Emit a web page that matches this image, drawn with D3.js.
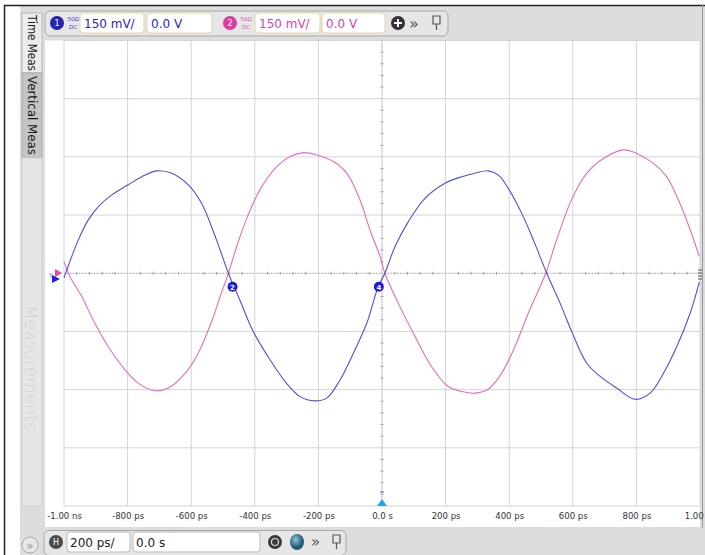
<!DOCTYPE html>
<html>
<head>
<meta charset="utf-8">
<script src="https://cdn.jsdelivr.net/npm/d3@7/dist/d3.min.js"></script>
<style>
  html, body { margin: 0; padding: 0; background: #ffffff; }
  svg { display: block; }
  .ui { font-family: "DejaVu Sans", Verdana, sans-serif; }
  .axlab { font-family: "Liberation Sans Narrow", "DejaVu Sans Condensed", "DejaVu Sans", sans-serif; font-stretch: condensed; }
</style>
</head>
<body>
<svg id="scope" width="705" height="555"></svg>
<script>
// Channel 1 (blue) samples: time in ps, level in mV
const ch1Time = [-1000, -955, -924, -892, -850, -798, -745, -708, -661, -609, -567, -536, -509, -483,
  -447, -405, -352, -300, -258, -211, -174, -132, -90, -48, -12, 9, 41, 83, 135, 198, 251, 292,
  334, 366, 397, 439, 476, 518, 560, 598, 644, 686, 738, 796, 843, 885, 927, 969, 998];
const ch1Volt = [-12, 86, 137, 172, 202, 228, 253, 264, 258, 228, 180, 120, 60, 0,
  -69, -150, -223, -284, -318, -329, -322, -275, -206, -129, -35, 0, 69, 133, 193, 232, 249, 258,
  264, 253, 219, 155, 86, 0, -77, -153, -232, -266, -296, -325, -309, -258, -189, -103, -22];

// Channel 2 (pink) samples
const ch2Time = [-1000, -981, -944, -903, -861, -808, -766, -714, -672, -619, -578, -536, -509, -483,
  -457, -425, -384, -331, -289, -247, -205, -153, -111, -69, -38, -6, 9, 51, 104, 156, 208, 251,
  292, 334, 376, 418, 460, 515, 549, 598, 644, 696, 759, 801, 853, 895, 937, 969, 998];
const ch2Volt = [30, -9, -60, -129, -189, -249, -284, -303, -296, -258, -206, -125, -60, 0,
  69, 142, 215, 275, 301, 311, 305, 288, 258, 189, 112, 43, 0, -77, -163, -241, -292, -305,
  -309, -299, -258, -189, -103, 0, 86, 193, 258, 296, 318, 309, 284, 249, 180, 112, 43];

// Horizontal axis labels (one per 200 ps division)
const timeTicks = [-1000, -800, -600, -400, -200, 0, 200, 400, 600, 800, 1000];
const timeLabels = ["-1.00 ns", "-800 ps", "-600 ps", "-400 ps", "-200 ps", "0.0 s",
  "200 ps", "400 ps", "600 ps", "800 ps", "1.00 ns"];
// Vertical divisions at 150 mV/div
const voltTicks = [-600, -450, -300, -150, 0, 150, 300, 450, 600];

// Measurement markers on channel 1 edges
const markerTime = [-470, -10];
const markerVolt = [-35, -35];
const markerText = ["2", "4"];

const svg = d3.select("#scope");
const W = 705, H = 555;

const x = d3.scaleLinear().domain([-1000, 1000]).range([64, 700]);
const y = d3.scaleLinear().domain([-600, 600]).range([506, 40.5]);

// ---------- application chrome ----------
const gray = "#dddddd";
svg.append("rect").attr("x", 0).attr("y", 0).attr("width", W).attr("height", H).attr("fill", "#ffffff");
// top toolbar band
svg.append("rect").attr("x", 20).attr("y", 5).attr("width", W - 20).attr("height", 36).attr("fill", gray);
// left tab column
svg.append("rect").attr("x", 20).attr("y", 5).attr("width", 25).attr("height", 523).attr("fill", gray);
// bottom toolbar band
svg.append("rect").attr("x", 20).attr("y", 527).attr("width", W - 20).attr("height", 28).attr("fill", gray);
// right strip
svg.append("rect").attr("x", 700).attr("y", 5).attr("width", 5).attr("height", 523).attr("fill", gray);
// outer frame lines
svg.append("line").attr("x1", 4).attr("x2", W).attr("y1", 5.5).attr("y2", 5.5).attr("stroke", "#222").attr("stroke-width", 1.5);
svg.append("line").attr("x1", 4.5).attr("x2", 4.5).attr("y1", 5).attr("y2", H).attr("stroke", "#222").attr("stroke-width", 1.5);
svg.append("line").attr("x1", 702.5).attr("x2", 702.5).attr("y1", 5).attr("y2", 528).attr("stroke", "#9a9a9a").attr("stroke-width", 1);

// ---------- left measurement tabs ----------
svg.append("rect").attr("x", 22).attr("y", 13).attr("width", 20).attr("height", 60)
  .attr("fill", "#ececec").attr("stroke", "#b8b8b8");
svg.append("rect").attr("x", 22).attr("y", 73).attr("width", 20).attr("height", 85)
  .attr("fill", "#c4c4c4").attr("stroke", "#a8a8a8");
svg.append("rect").attr("x", 22).attr("y", 158).attr("width", 20).attr("height", 348)
  .attr("fill", "#e6e6e6").attr("stroke", "#d0d0d0");
svg.append("text").attr("class", "ui").attr("transform", "translate(27.5,15) rotate(90)")
  .attr("font-size", 11.5).attr("fill", "#1a1a1a")
  .attr("textLength", 56).attr("lengthAdjust", "spacingAndGlyphs").text("Time Meas");
svg.append("text").attr("class", "ui").attr("transform", "translate(27.5,76) rotate(90)")
  .attr("font-size", 11.5).attr("fill", "#1a1a1a")
  .attr("textLength", 79).attr("lengthAdjust", "spacingAndGlyphs").text("Vertical Meas");
svg.append("text").attr("class", "ui").attr("transform", "translate(25,305) rotate(90)")
  .attr("font-size", 17).attr("fill", "#d2d2d2").attr("font-weight", 300).text("Measurements");

// ---------- graticule ----------
svg.append("rect").attr("x", 45).attr("y", 40.5).attr("width", 655).attr("height", 465.5).attr("fill", "#ffffff");
const grid = svg.append("g");
grid.selectAll("line.v").data(timeTicks).join("line")
  .attr("x1", d => x(d)).attr("x2", d => x(d)).attr("y1", y(600)).attr("y2", y(-600))
  .attr("stroke", "#d4d4d4").attr("stroke-width", 1);
grid.selectAll("line.h").data(voltTicks).join("line")
  .attr("x1", x(-1000)).attr("x2", x(1000)).attr("y1", d => y(d)).attr("y2", d => y(d))
  .attr("stroke", "#d4d4d4").attr("stroke-width", 1);
// centre axes, dotted with minor ticks
grid.append("line").attr("x1", x(-1000)).attr("x2", x(1000)).attr("y1", y(0)).attr("y2", y(0))
  .attr("stroke", "#b4b4b4").attr("stroke-dasharray", "1,2");
grid.append("line").attr("x1", x(0)).attr("x2", x(0)).attr("y1", y(600)).attr("y2", y(-600))
  .attr("stroke", "#b4b4b4").attr("stroke-dasharray", "1,2");
const minorT = d3.range(-1000, 1001, 40).filter(d => d % 200 !== 0);
grid.selectAll("line.mt").data(minorT).join("line")
  .attr("x1", d => x(d)).attr("x2", d => x(d)).attr("y1", y(0) - 1.5).attr("y2", y(0) + 1.5)
  .attr("stroke", "#a0a0a0");
const minorV = d3.range(-600, 601, 30).filter(d => d % 150 !== 0);
grid.selectAll("line.mv").data(minorV).join("line")
  .attr("x1", x(0) - 1.5).attr("x2", x(0) + 1.5).attr("y1", d => y(d)).attr("y2", d => y(d))
  .attr("stroke", "#a0a0a0");

// ---------- traces ----------
const traceLine = d3.line().x(d => x(d[0])).y(d => y(d[1])).curve(d3.curveCatmullRom.alpha(0.5));
const ch2 = ch2Time.map((t, i) => [t, ch2Volt[i]]);
const ch1 = ch1Time.map((t, i) => [t, ch1Volt[i]]);
svg.append("path").attr("d", traceLine(ch2)).attr("fill", "none").attr("stroke", "#e46cc0").attr("stroke-width", 1.1);
svg.append("path").attr("d", traceLine(ch1)).attr("fill", "none").attr("stroke", "#5050d8").attr("stroke-width", 1.1);

// measurement markers
const mk = svg.append("g").selectAll("g").data(markerTime).join("g")
  .attr("transform", (d, i) => `translate(${x(d)},${y(markerVolt[i])})`);
mk.append("circle").attr("r", 5).attr("fill", "#1a1ae0");
mk.append("text").attr("class", "ui").attr("text-anchor", "middle").attr("dy", 3)
  .attr("font-size", 7).attr("font-weight", "bold").attr("fill", "#ffffff").text((d, i) => markerText[i]);

// channel ground reference arrows at the left edge
svg.append("path").attr("d", "M55,269 L62,273 L55,277 Z").attr("fill", "#f040b0");
svg.append("path").attr("d", "M52,275 L60,279 L52,283 Z").attr("fill", "#2020e0");
svg.append("text").attr("class", "ui").attr("x", 49).attr("y", 278).attr("font-size", 6).attr("fill", "#6060c0").text("T");

// trigger marker
svg.append("line").attr("x1", x(0) - 2).attr("x2", x(0) + 2).attr("y1", 492).attr("y2", 492).attr("stroke", "#3a6a9a");
svg.append("path").attr("d", `M${x(0) - 5},506 L${x(0)},499 L${x(0) + 5},506 Z`).attr("fill", "#22a6e8");
// right edge marker
svg.append("g").selectAll("line").data([270, 273, 276, 279]).join("line")
  .attr("x1", 698).attr("x2", 702).attr("y1", d => d).attr("y2", d => d).attr("stroke", "#555");

// ---------- horizontal axis labels ----------
const xAxis = d3.axisBottom(x).tickValues(timeTicks).tickFormat((d, i) => timeLabels[i]).tickSize(0).tickPadding(0);
const ax = svg.append("g").attr("transform", "translate(0,512)").call(xAxis);
ax.select(".domain").remove();
ax.selectAll("text").attr("class", "axlab").attr("font-size", 9.5).attr("fill", "#333").attr("dy", "0.71em");

// ---------- top channel toolbar ----------
const topBar = svg.append("g").attr("class", "ui");
topBar.append("rect").attr("x", 45).attr("y", 11).attr("width", 403).attr("height", 25).attr("rx", 5)
  .attr("fill", "#e6e6e6").attr("stroke", "#a8a8a8");
function channel(g, cx, color, dark, label) {
  g.append("circle").attr("cx", cx).attr("cy", 23).attr("r", 7).attr("fill", dark);
  g.append("text").attr("x", cx).attr("y", 26).attr("text-anchor", "middle").attr("font-size", 8)
    .attr("fill", "#fff").text(label);
  g.append("text").attr("x", cx + 16).attr("y", 20.5).attr("text-anchor", "middle").attr("font-size", 5.5)
    .attr("fill", color).text("50Ω");
  g.append("text").attr("x", cx + 16).attr("y", 29).attr("text-anchor", "middle").attr("font-size", 5.5)
    .attr("fill", color).text("DC");
}
function field(g, x0, w, txt, color) {
  g.append("rect").attr("x", x0).attr("y", 13).attr("width", w).attr("height", 20).attr("rx", 3)
    .attr("fill", "#ffffff").attr("stroke", "#e2d6a8");
  g.append("text").attr("x", x0 + 4).attr("y", 27.5).attr("font-size", 12).attr("fill", color).text(txt);
}
channel(topBar, 57, "#3a3ad0", "#2424b4", "1");
field(topBar, 80, 64, "150 mV/", "#2626c8");
field(topBar, 147, 65, "0.0 V", "#2626c8");
channel(topBar, 230, "#e050b0", "#d83c9c", "2");
field(topBar, 255, 65, "150 mV/", "#d840b4");
field(topBar, 322, 63, "0.0 V", "#d840b4");
topBar.append("circle").attr("cx", 398).attr("cy", 23).attr("r", 7).attr("fill", "#333");
topBar.append("path").attr("d", "M394,23 H402 M398,19 V27").attr("stroke", "#fff").attr("stroke-width", 2);
topBar.append("text").attr("x", 409).attr("y", 28.5).attr("font-size", 16).attr("fill", "#555").text("»");
topBar.append("path").attr("d", "M433,16 h7 v8 h-7 Z M436.5,24 v6").attr("fill", "none").attr("stroke", "#555").attr("stroke-width", 1.2);

// ---------- bottom timebase toolbar ----------
const botBar = svg.append("g").attr("class", "ui");
botBar.append("circle").attr("cx", 30).attr("cy", 545).attr("r", 8).attr("fill", "#e8e8e8").attr("stroke", "#aaa");
botBar.append("text").attr("x", 30).attr("y", 549.5).attr("text-anchor", "middle").attr("font-size", 12).attr("fill", "#999").text("»");
botBar.append("rect").attr("x", 44).attr("y", 530.5).attr("width", 302).attr("height", 25).attr("rx", 5)
  .attr("fill", "#e6e6e6").attr("stroke", "#a8a8a8");
botBar.append("circle").attr("cx", 56).attr("cy", 542).attr("r", 7).attr("fill", "#4a4a4a");
botBar.append("text").attr("x", 56).attr("y", 545).attr("text-anchor", "middle").attr("font-size", 8).attr("fill", "#fff").text("H");
botBar.append("rect").attr("x", 67).attr("y", 532).attr("width", 63).attr("height", 20).attr("rx", 3).attr("fill", "#fff").attr("stroke", "#bbb");
botBar.append("text").attr("x", 70).attr("y", 546.5).attr("font-size", 12).attr("fill", "#222").text("200 ps/");
botBar.append("rect").attr("x", 133).attr("y", 532).attr("width", 127).attr("height", 20).attr("rx", 3).attr("fill", "#fff").attr("stroke", "#bbb");
botBar.append("text").attr("x", 136).attr("y", 546.5).attr("font-size", 12).attr("fill", "#222").text("0.0 s");
botBar.append("circle").attr("cx", 275).attr("cy", 542).attr("r", 7).attr("fill", "#3a3a3a");
botBar.append("circle").attr("cx", 275).attr("cy", 542).attr("r", 3.5).attr("fill", "none").attr("stroke", "#ddd").attr("stroke-width", 1.2);
const grad = svg.append("defs").append("radialGradient").attr("id", "ball").attr("cx", "40%").attr("cy", "35%");
grad.append("stop").attr("offset", "0%").attr("stop-color", "#8fc4d8");
grad.append("stop").attr("offset", "100%").attr("stop-color", "#1f5a74");
botBar.append("ellipse").attr("cx", 297).attr("cy", 542).attr("rx", 7).attr("ry", 8).attr("fill", "url(#ball)");
botBar.append("text").attr("x", 311).attr("y", 547).attr("font-size", 15).attr("fill", "#555").text("»");
botBar.append("path").attr("d", "M333,535 h7 v8 h-7 Z M336.5,543 v6").attr("fill", "none").attr("stroke", "#555").attr("stroke-width", 1.2);
</script>
</body>
</html>
